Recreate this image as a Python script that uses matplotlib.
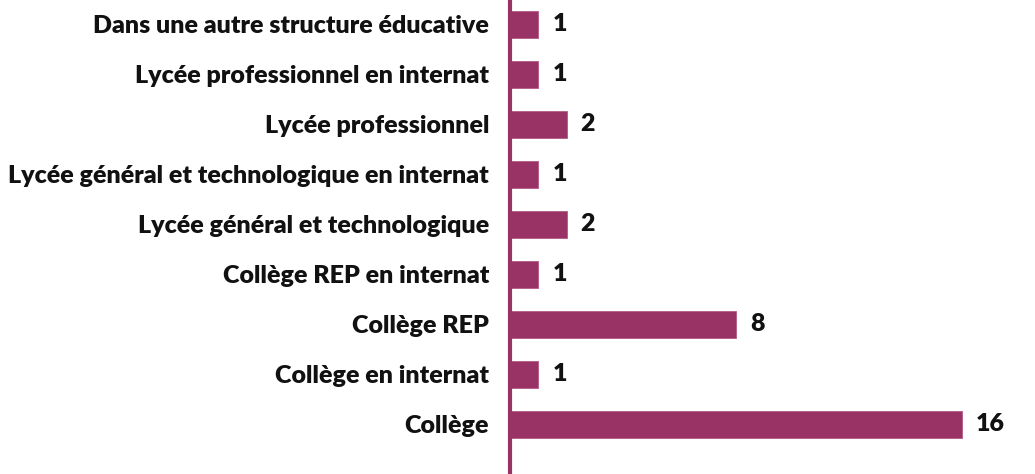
import matplotlib
matplotlib.use("Agg")
import matplotlib.pyplot as plt

categories = ["Collège", "Collège en internat", "Collège REP", "Collège REP en internat",
              "Lycée général et technologique", "Lycée général et technologique en internat",
              "Lycée professionnel", "Lycée professionnel en internat",
              "Dans une autre structure éducative"]
values = [16, 1, 8, 1, 2, 1, 2, 1, 1]

color = "#993366"
fig = plt.figure(figsize=(10.35, 4.74), dpi=100)
ax = fig.add_axes([510/1035, 0, 1 - 510/1035, 1])
y = list(range(len(categories)))
ax.barh(y, values, height=0.54, color=color, edgecolor="#b45a85", linewidth=0.6)
ax.set_xlim(0, 18.58)
ax.set_ylim(-1.0, 8.48)
for s in ["top", "right", "bottom"]:
    ax.spines[s].set_visible(False)
ax.spines["left"].set_color(color)
ax.spines["left"].set_linewidth(3)
ax.set_xticks([])
ax.set_yticks(y)
ax.set_yticklabels(categories, fontsize=18, fontweight="heavy", family="Lato", color="#111111")
ax.tick_params(axis="y", length=0, pad=15)
for yi, v in zip(y, values):
    ax.annotate(str(v), (v, yi), xytext=(14, 0), textcoords="offset pixels",
                va="center", ha="left", fontsize=18, fontweight="heavy", family="Lato", color="#111111")
fig.savefig("out.png", dpi=100)
